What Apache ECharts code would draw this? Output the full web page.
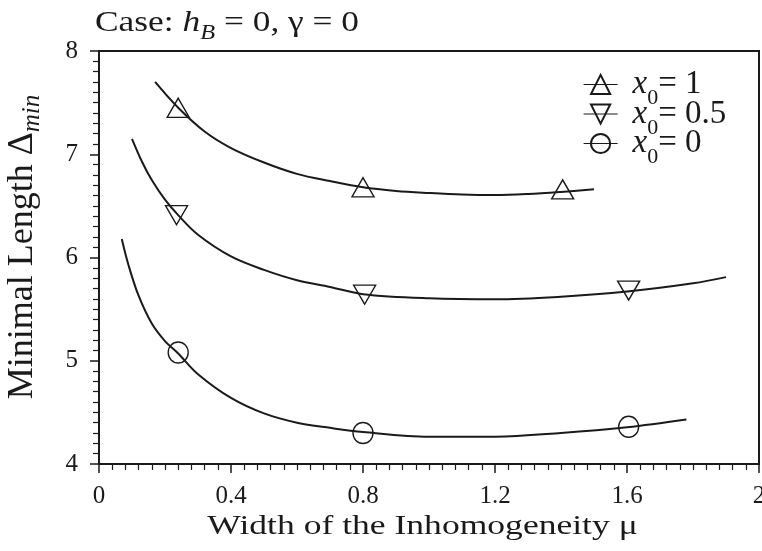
<!DOCTYPE html>
<html>
<head>
<meta charset="utf-8">
<script src="https://cdn.jsdelivr.net/npm/echarts@6/dist/echarts.min.js"></script>
<style>html,body{margin:0;padding:0;background:#fff;}#c{width:762px;height:551px;}</style>
</head>
<body>
<div id="c"></div>
<script>
// Curves (fitted lines)
const curve1X = [0.17, 0.24, 0.32, 0.4, 0.5, 0.6, 0.7, 0.8, 0.9, 1.0, 1.1, 1.2, 1.3, 1.4, 1.5];
const curve1Y = [7.70, 7.45, 7.22, 7.06, 6.92, 6.81, 6.74, 6.68, 6.645, 6.625, 6.61, 6.605, 6.615, 6.635, 6.66];
const curve2X = [0.10, 0.13, 0.16, 0.2, 0.24, 0.3, 0.4, 0.5, 0.6, 0.7, 0.8, 1.0, 1.2, 1.4, 1.6, 1.8, 1.9];
const curve2Y = [7.15, 6.93, 6.75, 6.56, 6.41, 6.22, 6.01, 5.88, 5.78, 5.715, 5.645, 5.605, 5.595, 5.62, 5.67, 5.75, 5.81];
const curve3X = [0.069, 0.09, 0.12, 0.16, 0.2, 0.24, 0.3, 0.4, 0.5, 0.6, 0.7, 0.8, 1.0, 1.2, 1.4, 1.6, 1.78];
const curve3Y = [6.18, 5.92, 5.63, 5.36, 5.19, 5.07, 4.87, 4.64, 4.49, 4.40, 4.35, 4.31, 4.265, 4.265, 4.30, 4.355, 4.43];
// Data markers
const mark1X = [0.24, 0.80, 1.405];
const mark1Y = [7.45, 6.68, 6.66];
const mark2X = [0.235, 0.805, 1.605];
const mark2Y = [6.41, 5.64, 5.68];
const mark3X = [0.24, 0.80, 1.605];
const mark3Y = [5.08, 4.30, 4.36];
const seriesNames = ['x0=1', 'x0=0.5', 'x0=0'];
const legendValues = ['1', '0.5', '0'];
const xTicks = {min: 0, max: 2, interval: 0.4};
const yTicks = {min: 4, max: 8, interval: 1};

const zip = (xs, ys) => xs.map((x, i) => [x, ys[i]]);
const FONT = '"Liberation Serif", "DejaVu Serif", serif';
const INK = '#1a1a1a';

const chart = echarts.init(document.getElementById('c'), null, {renderer: 'canvas'});

function lineSeries(name, data, symbol, rotate) {
  return {
    name, type: 'line', data, smooth: 0.35, showSymbol: false,
    symbol, symbolRotate: rotate, symbolSize: 20,
    lineStyle: {color: INK, width: 2},
    itemStyle: {color: 'rgba(0,0,0,0)', borderColor: INK, borderWidth: 1.4},
    z: 2, silent: true
  };
}
function markSeries(name, data, symbol, size, rotate) {
  return {
    name, type: 'scatter', data, symbol, symbolSize: size, symbolRotate: rotate,
    itemStyle: {color: 'rgba(0,0,0,0)', borderColor: INK, borderWidth: 1.4, opacity: 1},
    z: 3, silent: true
  };
}

chart.setOption({
  animation: false,
  backgroundColor: '#fff',
  graphic: [
    {
      type: 'text', x: 95, y: 23, scaleX: 1.22, silent: true,
      style: {
        text: 'Case: {i|h}{sub|B} = 0, γ = 0',
        fontFamily: FONT, fontSize: 29, fill: INK, align: 'left', verticalAlign: 'middle',
        rich: {
          i: {fontFamily: FONT, fontSize: 29, fontStyle: 'italic', fill: INK, color: INK},
          sub: {fontFamily: FONT, fontSize: 20, fontStyle: 'italic', fill: INK, color: INK, padding: [22, 0, 0, 0]}
        }
      }
    },
    {
      type: 'text', x: 422.5, y: 527, scaleX: 1.27, silent: true,
      style: {
        text: 'Width of the Inhomogeneity μ',
        fontFamily: FONT, fontSize: 28, fill: INK, align: 'center', verticalAlign: 'middle'
      }
    },
    {
      type: 'text', x: 23, y: 247, rotation: Math.PI / 2, silent: true,
      style: {
        text: 'Minimal Length Δ{s|min}',
        fontFamily: FONT, fontSize: 36, fill: INK, align: 'center', verticalAlign: 'middle',
        rich: {
          s: {fontFamily: FONT, fontSize: 25, fontStyle: 'italic', fill: INK, color: INK, padding: [18, 0, 0, 0]}
        }
      }
    }
  ],
  grid: {left: 99, right: 3, top: 51, bottom: 87, show: true, borderColor: INK, borderWidth: 2,
    backgroundColor: 'transparent', outerBoundsMode: 'none', containLabel: false},
  legend: {
    orient: 'vertical', left: 583, top: 68, padding: 0, itemWidth: 34, itemHeight: 24, itemGap: -12,
    data: seriesNames,
    selectedMode: false,
    lineStyle: {width: 1.2, color: INK},
    formatter: function (name) {
      const idx = seriesNames.indexOf(name);
      return '{i|x}{s|0}{t|= ' + legendValues[idx] + '}';
    },
    textStyle: {
      fontFamily: FONT, fontSize: 33, color: INK,
      rich: {
        i: {fontFamily: FONT, fontSize: 33, fontStyle: 'italic', color: INK, padding: [0, 0, 0, 10]},
        s: {fontFamily: FONT, fontSize: 22, color: INK, padding: [28, 0, 0, 0]},
        t: {fontFamily: FONT, fontSize: 33, color: INK}
      }
    }
  },
  xAxis: {
    type: 'value', min: xTicks.min, max: xTicks.max, interval: xTicks.interval,
    axisLine: {show: true, onZero: false, lineStyle: {color: INK, width: 2}},
    axisTick: {show: true, length: 9, lineStyle: {color: INK, width: 1.5}},
    minorTick: {show: true, splitNumber: 10, length: 6, lineStyle: {color: INK, width: 1.2}},
    splitLine: {show: false},
    axisLabel: {fontFamily: FONT, fontSize: 25, color: INK, margin: 20,
      formatter: v => String(+v.toFixed(1))}
  },
  yAxis: {
    type: 'value', min: yTicks.min, max: yTicks.max, interval: yTicks.interval,
    axisLine: {show: true, onZero: false, lineStyle: {color: INK, width: 2}},
    axisTick: {show: true, length: 9, lineStyle: {color: INK, width: 1.5}},
    minorTick: {show: true, splitNumber: 10, length: 6, lineStyle: {color: INK, width: 1.2}},
    splitLine: {show: false},
    axisLabel: {fontFamily: FONT, fontSize: 25, color: INK, margin: 21}
  },
  series: [
    lineSeries(seriesNames[0], zip(curve1X, curve1Y), 'triangle', 0),
    lineSeries(seriesNames[1], zip(curve2X, curve2Y), 'triangle', 180),
    lineSeries(seriesNames[2], zip(curve3X, curve3Y), 'circle', 0),
    markSeries(seriesNames[0], zip(mark1X, mark1Y), 'triangle', [22, 19], 0),
    markSeries(seriesNames[1], zip(mark2X, mark2Y), 'triangle', [22, 19], 180),
    markSeries(seriesNames[2], zip(mark3X, mark3Y), 'circle', [20, 21], 0)
  ]
});
</script>
</body>
</html>
